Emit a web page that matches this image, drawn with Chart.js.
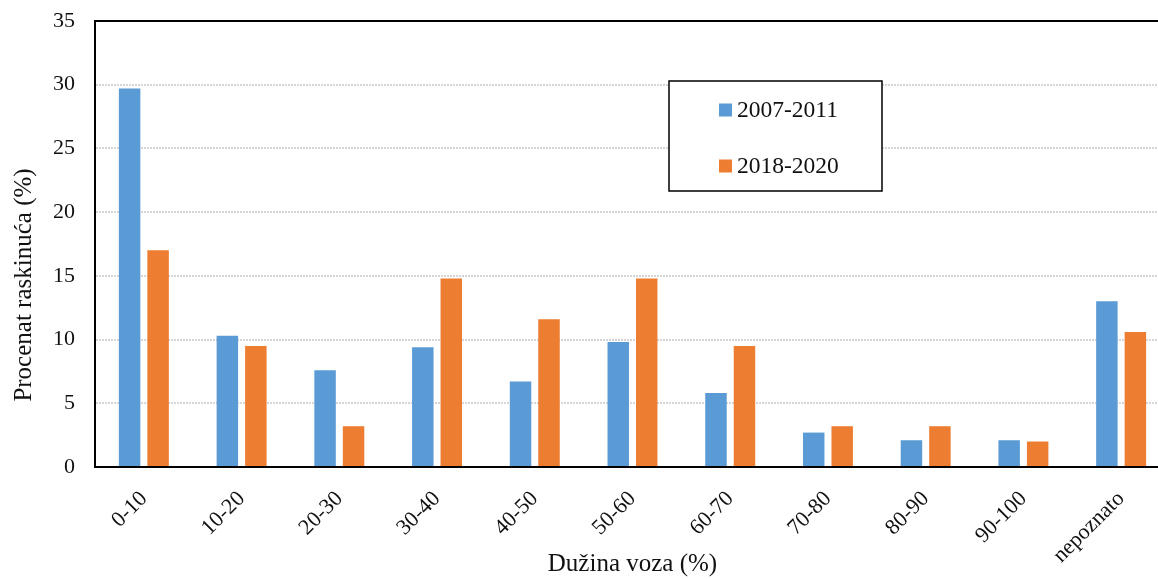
<!DOCTYPE html>
<html>
<head>
<meta charset="utf-8">
<script src="https://cdn.jsdelivr.net/npm/chart.js@4/dist/chart.umd.min.js"></script>
<style>
  html, body { margin: 0; padding: 0; background: #fff; }
  canvas { display: block; }
</style>
</head>
<body>
<canvas id="c" width="1158" height="579"></canvas>
<script>
// Kategorije dužine voza i udio raskinuća po periodu
const categories = ['0-10', '10-20', '20-30', '30-40', '40-50', '50-60', '60-70', '70-80', '80-90', '90-100', 'nepoznato'];
const period1Label = '2007-2011';
const period2Label = '2018-2020';
const period1Values = [29.7, 10.3, 7.6, 9.4, 6.7, 9.8, 5.8, 2.7, 2.1, 2.1, 13.0];
const period2Values = [17.0, 9.5, 3.2, 14.8, 11.6, 14.8, 9.5, 3.2, 3.2, 2.0, 10.6];
const yTicks = [0, 5, 10, 15, 20, 25, 30, 35];
const xTitle = 'Dužina voza (%)';
const yTitle = 'Procenat raskinuća (%)';

const BLUE = '#5B9BD5';
const ORANGE = '#ED7D31';
const FONT = "'Liberation Serif', 'Times New Roman', serif";
const PLOT_OVERHANG = 12; // plot area continues a little past the right canvas edge

// Extend the plot area past the right edge of the canvas
const overhang = {
  id: 'overhang',
  afterLayout(chart) {
    const right = chart.width + PLOT_OVERHANG;
    const area = chart.chartArea;
    area.right = right;
    area.width = right - area.left;
    const x = chart.scales.x;
    x.right = right;
    x.width = right - x.left;
    x.configure();
    const y = chart.scales.y;
    y.configure();
  }
};

// Top frame line, rotated y-axis title and the boxed legend
const decorations = {
  id: 'decorations',
  afterDraw(chart) {
    const { ctx, chartArea } = chart;
    ctx.save();
    // top frame line
    ctx.strokeStyle = '#000';
    ctx.lineWidth = 2;
    ctx.beginPath();
    ctx.moveTo(chartArea.left - 1, chartArea.top);
    ctx.lineTo(chart.width, chartArea.top);
    ctx.stroke();

    // y-axis title
    ctx.save();
    ctx.translate(24, 285);
    ctx.rotate(-Math.PI / 2);
    ctx.font = '25px ' + FONT;
    ctx.fillStyle = '#111';
    ctx.textAlign = 'center';
    ctx.textBaseline = 'middle';
    ctx.fillText(yTitle, 0, 0);
    ctx.restore();

    // legend box
    const bx = 669, by = 81, bw = 213, bh = 110;
    ctx.fillStyle = '#fff';
    ctx.fillRect(bx, by, bw, bh);
    ctx.strokeStyle = '#000';
    ctx.lineWidth = 1.5;
    ctx.strokeRect(bx, by, bw, bh);
    const rows = [110, 166];
    ctx.font = '23.5px ' + FONT;
    ctx.textAlign = 'left';
    ctx.textBaseline = 'middle';
    chart.data.datasets.forEach((ds, i) => {
      const y = rows[i];
      ctx.fillStyle = ds.backgroundColor;
      ctx.fillRect(719, y - 6.5, 13, 13);
      ctx.fillStyle = '#111';
      ctx.fillText(ds.label, 737, y + 1);
    });
    ctx.restore();
  }
};

new Chart(document.getElementById('c'), {
  type: 'bar',
  data: {
    labels: categories,
    datasets: [
      { label: period1Label, data: period1Values, backgroundColor: BLUE,
        categoryPercentage: 0.583, barPercentage: 0.754 },
      { label: period2Label, data: period2Values, backgroundColor: ORANGE,
        categoryPercentage: 0.583, barPercentage: 0.754 }
    ]
  },
  options: {
    responsive: false,
    animation: false,
    layout: { padding: { top: 21, right: 0, left: 0, bottom: 0 } },
    plugins: {
      legend: { display: false },
      tooltip: { enabled: false }
    },
    scales: {
      x: {
        grid: { display: false, drawTicks: false },
        border: { display: true, color: '#000', width: 2 },
        ticks: {
          minRotation: 45, maxRotation: 45, padding: 19,
          color: '#111', font: { family: FONT, size: 22 }
        },
        title: {
          display: true, text: xTitle, color: '#111',
          font: { family: FONT, size: 25 }, padding: { top: 0, bottom: 0 }
        },
        afterFit(scale) {
          scale.height = 112;
          scale.paddingLeft = 0;
          scale.paddingRight = 0;
        }
      },
      y: {
        min: 0, max: 35,
        afterBuildTicks(scale) { scale.ticks = yTicks.map(v => ({ value: v })); },
        grid: {
          drawTicks: false, lineWidth: 2,
          color: (c) => (c.tick && (c.tick.value === 0 || c.tick.value === 35)) ? 'rgba(0,0,0,0)' : '#d6d6d6'
        },
        border: { display: true, color: '#000', width: 2, dash: [2, 1] },
        ticks: {
          padding: 20, color: '#111',
          font: { family: FONT, size: 22 }
        },
        afterFit(scale) {
          scale.width = 95;
          scale.paddingTop = 0;
          scale.paddingBottom = 0;
        }
      }
    }
  },
  plugins: [overhang, decorations]
});
</script>
</body>
</html>
